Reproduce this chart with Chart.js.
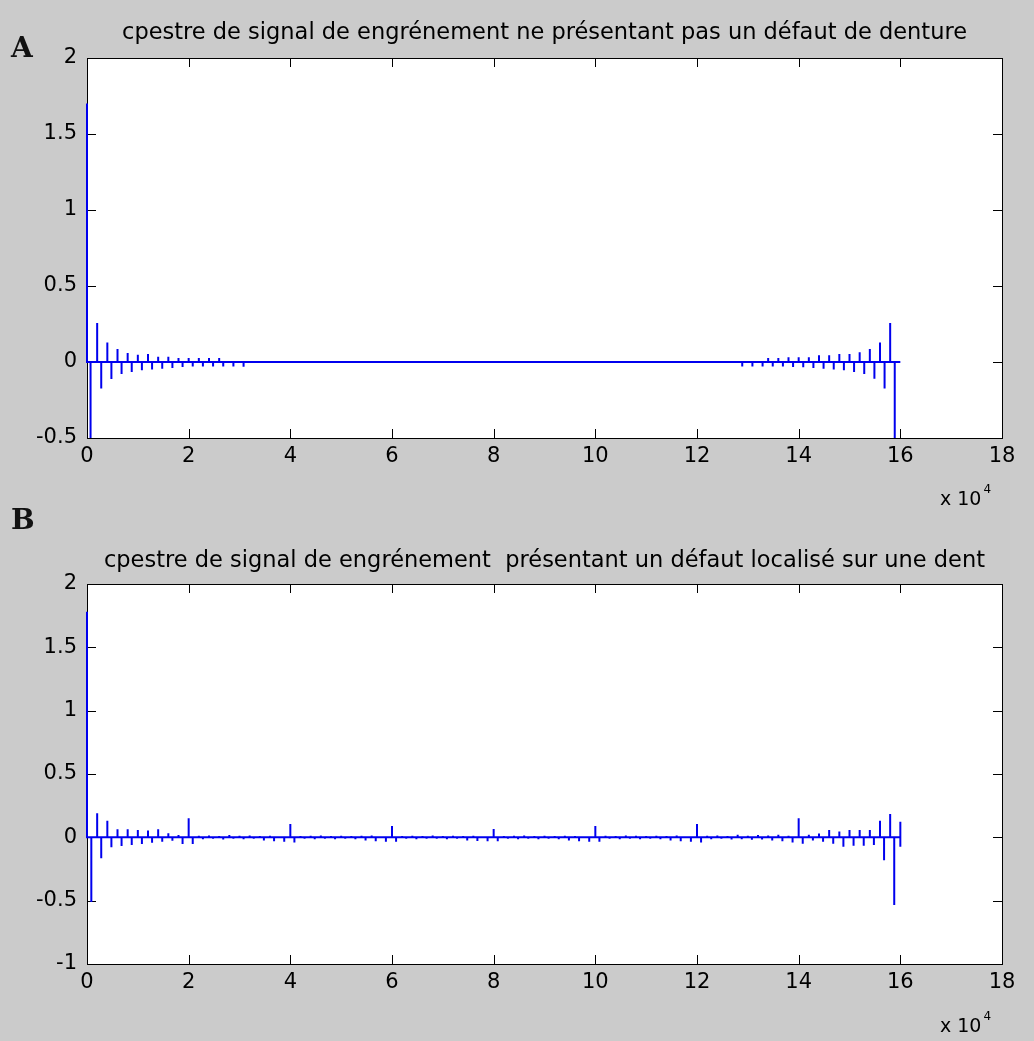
<!DOCTYPE html>
<html><head><meta charset="utf-8">
<script src="https://cdn.jsdelivr.net/npm/chart.js@4.4.1/dist/chart.umd.min.js"></script>
<style>
html,body{margin:0;padding:0;background:#cbcbcb;}
#wrap{position:relative;width:1034px;height:1041px;overflow:hidden;background:#cbcbcb;}
canvas{position:absolute;left:0;}
.lbl{position:absolute;font-family:"DejaVu Serif",serif;font-weight:bold;font-size:28px;line-height:28px;color:#111;}
.mult{position:absolute;font-family:"DejaVu Sans",sans-serif;font-size:19px;line-height:19px;color:#000;white-space:nowrap;}
.mult sup{font-size:12px;line-height:12px;position:relative;top:-6px;vertical-align:top;margin-left:2px;}
</style></head><body>
<div id="wrap">
<canvas id="c1" width="1034" height="520" style="top:0px"></canvas>
<canvas id="c2" width="1034" height="521" style="top:520px"></canvas>
<div class="lbl" style="left:11px;top:34px">A</div>
<div class="lbl" style="left:11px;top:506px">B</div>
<div class="mult" style="left:940px;top:489px">x 10<sup>4</sup></div>
<div class="mult" style="left:940px;top:1016px">x 10<sup>4</sup></div>
</div>
<script>
// ---- axes / text ----
const xTickValues = [0, 20000, 40000, 60000, 80000, 100000, 120000, 140000, 160000, 180000];
const xTickLabels = ['0', '2', '4', '6', '8', '10', '12', '14', '16', '18'];
const yTicksTop = [-0.5, 0, 0.5, 1, 1.5, 2];
const yTickLabelsTop = ['-0.5', '0', '0.5', '1', '1.5', '2'];
const yTicksBottom = [-1, -0.5, 0, 0.5, 1, 1.5, 2];
const yTickLabelsBottom = ['-1', '-0.5', '0', '0.5', '1', '1.5', '2'];
const titleTop = 'cpestre de signal de engrénement ne présentant pas un défaut de denture';
const titleBottom = 'cpestre de signal de engrénement  présentant un défaut localisé sur une dent';
const signalLength = 160000;

// ---- A : healthy gear cepstrum (spike quefrency, amplitude) ----
const topSpikeX = [0, 700, 2000, 2800, 4000, 4800, 6000, 6800, 8000, 8800, 10000, 10800, 12000, 12800,
  14000, 14800, 16000, 16800, 18000, 18800, 20000, 20800, 22000, 22800, 24000, 24800, 26000, 26800, 28800, 30800,
  128900, 130900, 132900, 134000, 134900, 136000, 136900, 138000, 138900, 140000, 140900, 142000, 142900,
  144000, 144900, 146000, 146900, 148000, 148900, 150000, 150900, 152000, 152900, 154000, 154900, 156000,
  156900, 158000, 158900];
const topSpikeY = [1.70, -0.50, 0.257, -0.175, 0.129, -0.112, 0.086, -0.079, 0.059, -0.066, 0.048, -0.055, 0.053, -0.050,
  0.035, -0.044, 0.035, -0.039, 0.026, -0.033, 0.026, -0.029, 0.026, -0.029, 0.026, -0.029, 0.026, -0.029, -0.029, -0.031,
  -0.029, -0.029, -0.029, 0.026, -0.029, 0.026, -0.029, 0.031, -0.033, 0.031, -0.035, 0.031, -0.039,
  0.044, -0.044, 0.044, -0.050, 0.053, -0.055, 0.053, -0.066, 0.064, -0.079, 0.086, -0.110, 0.129,
  -0.175, 0.257, -0.50];

// ---- B : faulty gear cepstrum ----
const bottomHeadX = [0, 850];
const bottomHeadY = [1.78, -0.51];
const meshPeriod = 2000;      // spacing of mesh rahmonics (samples)
const meshNegOffset = 800;    // offset of negative lobe after each rahmonic
// positive lobes at harmonic k = 1..79
const bottomPosY = [0.190, 0.130, 0.063, 0.063, 0.058, 0.053, 0.063, 0.032, 0.018, 0.150,
  0.012, 0.015, 0.010, 0.018, 0.012, 0.015, 0.010, 0.012, 0.008, 0.105,
  0.010, 0.012, 0.015, 0.010, 0.012, 0.010, 0.012, 0.015, 0.008, 0.090,
  0.010, 0.012, 0.010, 0.015, 0.010, 0.012, 0.010, 0.012, 0.008, 0.066,
  0.010, 0.012, 0.015, 0.010, 0.012, 0.010, 0.012, 0.010, 0.008, 0.090,
  0.012, 0.010, 0.015, 0.012, 0.010, 0.012, 0.010, 0.015, 0.008, 0.105,
  0.012, 0.015, 0.010, 0.020, 0.012, 0.018, 0.015, 0.020, 0.012, 0.150,
  0.020, 0.030, 0.058, 0.047, 0.058, 0.058, 0.058, 0.130, 0.185];
// negative lobes at harmonic k = 1..79
const bottomNegY = [-0.166, -0.079, -0.068, -0.060, -0.053, -0.042, -0.034, -0.026, -0.053, -0.053,
  -0.015, -0.012, -0.018, -0.012, -0.015, -0.012, -0.025, -0.030, -0.035, -0.040,
  -0.012, -0.015, -0.012, -0.015, -0.012, -0.015, -0.025, -0.030, -0.035, -0.035,
  -0.012, -0.015, -0.012, -0.012, -0.015, -0.012, -0.025, -0.028, -0.030, -0.030,
  -0.012, -0.015, -0.012, -0.015, -0.012, -0.015, -0.025, -0.030, -0.035, -0.035,
  -0.012, -0.015, -0.012, -0.015, -0.012, -0.015, -0.025, -0.030, -0.035, -0.040,
  -0.015, -0.012, -0.018, -0.015, -0.020, -0.018, -0.025, -0.030, -0.040, -0.050,
  -0.025, -0.035, -0.050, -0.074, -0.066, -0.066, -0.060, -0.180, -0.535];
const bottomTailY = [-0.074, 0.124];

// ---- build line points from spikes ----
function spikePoints(xs, ys) {
  const pts = [];
  for (let i = 0; i < xs.length; i++) {
    const x = xs[i], y = ys[i];
    if (x === 0) { pts.push({x: 0, y: y}, {x: 0, y: 0}); }
    else { pts.push({x: x, y: 0}, {x: x, y: y}, {x: x, y: 0}); }
  }
  return pts;
}
const topPoints = spikePoints(topSpikeX, topSpikeY);
topPoints.push({x: signalLength, y: 0});

const bxs = bottomHeadX.slice(), bys = bottomHeadY.slice();
for (let k = 1; k <= bottomPosY.length; k++) {
  bxs.push(k * meshPeriod); bys.push(bottomPosY[k - 1]);
  bxs.push(k * meshPeriod + meshNegOffset); bys.push(bottomNegY[k - 1]);
}
const bottomPoints = spikePoints(bxs, bys);
bottomPoints.push({x: signalLength, y: 0});
bottomTailY.forEach(v => bottomPoints.push({x: signalLength, y: v}));

// ---- MATLAB-like box with inward ticks ----
const matlabBox = {
  id: 'matlabBox',
  beforeDraw(chart) {
    const {ctx, chartArea: a} = chart;
    ctx.save(); ctx.fillStyle = '#ffffff';
    ctx.fillRect(a.left, a.top, a.right - a.left, a.bottom - a.top);
    ctx.restore();
  },
  beforeDatasetsDraw(chart) {
    const {ctx, chartArea: a, scales: {x, y}} = chart;
    const tl = 9;
    ctx.save();
    ctx.strokeStyle = '#000'; ctx.lineWidth = 1;
    ctx.beginPath();
    x.ticks.forEach(t => {
      const px = Math.round(x.getPixelForValue(t.value)) + 0.5;
      ctx.moveTo(px, a.bottom); ctx.lineTo(px, a.bottom - tl);
      ctx.moveTo(px, a.top); ctx.lineTo(px, a.top + tl);
    });
    y.ticks.forEach(t => {
      const py = Math.round(y.getPixelForValue(t.value)) + 0.5;
      ctx.moveTo(a.left, py); ctx.lineTo(a.left + tl, py);
      ctx.moveTo(a.right, py); ctx.lineTo(a.right - tl, py);
    });
    ctx.stroke();
    ctx.strokeRect(Math.round(a.left) + 0.5, Math.round(a.top) + 0.5,
      Math.round(a.right - a.left), Math.round(a.bottom - a.top));
    ctx.restore();
  }
};

function makeChart(id, pts, yTicks, yLabels, title, titlePad, xAxisH) {
  return new Chart(document.getElementById(id), {
    type: 'line',
    data: {datasets: [{data: pts, borderColor: '#0000ee', borderWidth: 2, pointRadius: 0,
      tension: 0, fill: false, clip: 3}]},
    options: {
      responsive: false, animation: false, devicePixelRatio: 1,
      layout: {padding: {left: 0, right: 32, top: 0, bottom: 0}},
      plugins: {
        legend: {display: false}, tooltip: {enabled: false},
        title: {display: true, text: title, fullSize: false, color: '#000',
          font: {family: 'DejaVu Sans', size: 22.5, weight: 'normal', lineHeight: 1.2}, padding: titlePad}
      },
      scales: {
        x: {type: 'linear', min: xTickValues[0], max: xTickValues[xTickValues.length - 1],
          grid: {display: false, drawTicks: false}, border: {display: false},
          afterFit(s) { s.height = xAxisH; },
          afterBuildTicks(s) { s.ticks = xTickValues.map(v => ({value: v})); },
          ticks: {color: '#000', font: {family: 'DejaVu Sans', size: 21}, padding: 6,
            maxRotation: 0, autoSkip: false, callback: (v, i) => xTickLabels[i]}},
        y: {type: 'linear', min: yTicks[0], max: yTicks[yTicks.length - 1],
          grid: {display: false, drawTicks: false}, border: {display: false},
          afterFit(s) { s.width = 87; },
          afterBuildTicks(s) { s.ticks = yTicks.map(v => ({value: v})); },
          ticks: {color: '#000', font: {family: 'DejaVu Sans', size: 21}, padding: 10,
            autoSkip: false, callback: (v, i) => yLabels[i]}}
      }
    },
    plugins: [matlabBox]
  });
}

makeChart('c1', topPoints, yTicksTop, yTickLabelsTop, titleTop, {top: 20, bottom: 11}, 82);
makeChart('c2', bottomPoints, yTicksBottom, yTickLabelsBottom, titleBottom, {top: 27.5, bottom: 9.5}, 77);
</script>
</body></html>
